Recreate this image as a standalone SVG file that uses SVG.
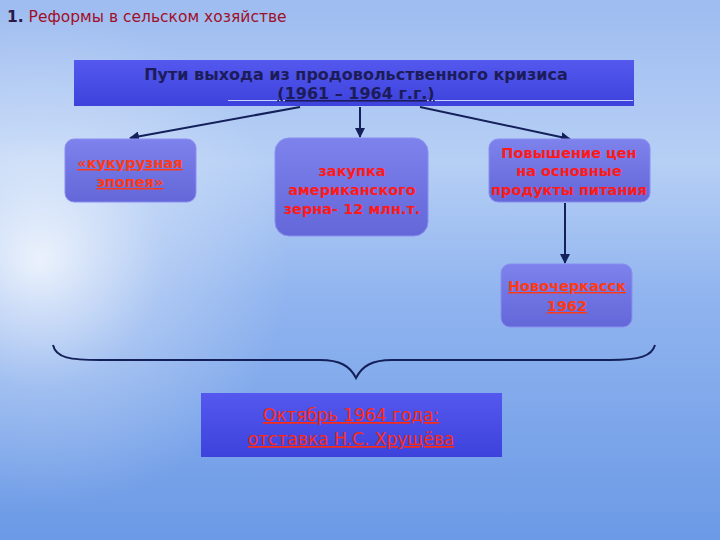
<svg xmlns="http://www.w3.org/2000/svg" width="720" height="540" viewBox="0 0 720 540">
<defs>
<linearGradient id="bg" x1="0" y1="0" x2="0" y2="1">
<stop offset="0" stop-color="#9ebcf0"/>
<stop offset="0.3" stop-color="#b6cff5"/>
<stop offset="0.55" stop-color="#90b4ef"/>
<stop offset="1" stop-color="#6c9ae6"/>
</linearGradient>
<radialGradient id="glow" cx="40" cy="260" r="250" gradientUnits="userSpaceOnUse">
<stop offset="0" stop-color="#ffffff" stop-opacity="0.8"/>
<stop offset="0.5" stop-color="#ffffff" stop-opacity="0.25"/>
<stop offset="1" stop-color="#ffffff" stop-opacity="0"/>
</radialGradient>
<linearGradient id="dark" x1="0" y1="0" x2="0" y2="1">
<stop offset="0" stop-color="#5458ee"/>
<stop offset="1" stop-color="#3d42dc"/>
</linearGradient>
<linearGradient id="soft" x1="0" y1="0" x2="0" y2="1">
<stop offset="0" stop-color="#7e82ec"/>
<stop offset="1" stop-color="#6367d8"/>
</linearGradient>
<marker id="ah" viewBox="0 0 10 10" refX="9" refY="5" markerWidth="5" markerHeight="5" orient="auto">
<path d="M0,0 L10,5 L0,10 z" fill="#14205a"/>
</marker>
</defs>
<style>
.ttl{font-family:"DejaVu Sans","Liberation Sans",sans-serif;font-weight:bold;font-size:16px;fill:#1c1c5a;text-anchor:middle}
.red{font-family:"DejaVu Sans","Liberation Sans",sans-serif;font-weight:bold;font-size:14.5px;fill:#ff1a1a;text-anchor:middle}
.und{text-decoration:underline;fill:#ff3a14}
.bot{font-family:"DejaVu Sans","Liberation Sans",sans-serif;font-size:17px;fill:#ff2a10;text-anchor:middle;text-decoration:underline}
.conn{stroke:#14205a;stroke-width:2;fill:none}
.soft{fill:url(#soft);stroke:#8a8ef0;stroke-width:1}
</style>
<rect width="720" height="540" fill="url(#bg)"/>
<rect width="720" height="540" fill="url(#glow)"/>

<g id="header">
<text x="7" y="22" font-family="DejaVu Sans, sans-serif" font-size="15.5" fill="#a0102a"><tspan font-weight="bold" fill="#2a1a4a">1.</tspan> Реформы в сельском хозяйстве</text>
</g>

<g id="title">
<rect x="74" y="60" width="560" height="46" fill="url(#dark)"/>
<line x1="228" y1="100.5" x2="633" y2="100.5" stroke="#c8d0ff" stroke-width="1"/>
<text class="ttl" x="356" y="80">Пути выхода из продовольственного кризиса</text>
<text class="ttl" x="356" y="99" text-decoration="underline">(1961 – 1964 г.г.)</text>
</g>

<g id="connectors">
<line class="conn" x1="300" y1="107" x2="130" y2="138" marker-end="url(#ah)"/>
<line class="conn" x1="360" y1="107" x2="360" y2="137" marker-end="url(#ah)"/>
<line class="conn" x1="420" y1="107" x2="570" y2="139" marker-end="url(#ah)"/>
<line class="conn" x1="565" y1="203" x2="565" y2="263" marker-end="url(#ah)"/>
<path class="conn" stroke-width="3" d="M53,345 C56,358 70,360 100,360 L320,360 C340,360 350,366 356,378 C362,366 372,360 392,360 L610,360 C640,360 652,356 655,345"/>
</g>

<g id="corn">
<rect class="soft" x="65" y="139" width="131" height="63" rx="9"/>
<text class="red und" x="130" y="168">«кукурузная</text>
<text class="red und" x="130" y="187">эпопея»</text>
</g>

<g id="grain">
<rect class="soft" x="275" y="138" width="153" height="98" rx="14"/>
<text class="red" x="352" y="176">закупка</text>
<text class="red" x="352" y="195">американского</text>
<text class="red" x="352" y="214">зерна- 12 млн.т.</text>
</g>

<g id="prices">
<rect class="soft" x="489" y="139" width="161" height="63" rx="9"/>
<text class="red" x="569" y="158">Повышение цен</text>
<text class="red" x="569" y="176">на основные</text>
<text class="red" x="569" y="195">продукты питания</text>
</g>

<g id="novocherkassk">
<rect class="soft" x="501" y="264" width="131" height="63" rx="9"/>
<text class="red und" x="567" y="291">Новочеркасск</text>
<text class="red und" x="567" y="311">1962</text>
</g>

<g id="october">
<rect x="201" y="393" width="301" height="64" fill="url(#dark)"/>
<text class="bot" x="351" y="421">Октябрь 1964 года:</text>
<text class="bot" x="351" y="445">отставка Н.С. Хрущёва</text>
</g>
</svg>
